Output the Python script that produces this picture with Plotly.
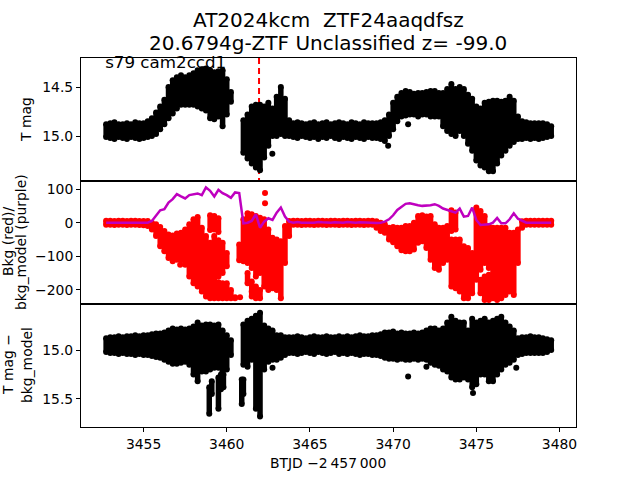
import plotly.graph_objects as go

# first row is 3452.75, then one row of four values per day
btjd = [3452.75,
    3453.0, 3453.25, 3453.5, 3453.75, 3454.0, 3454.25, 3454.5, 3454.75,
    3455.0, 3455.25, 3455.5, 3455.75, 3456.0, 3456.25, 3456.5, 3456.75,
    3457.0, 3457.25, 3457.5, 3457.75, 3458.0, 3458.25, 3458.5, 3458.75,
    3459.0, 3459.25, 3459.5, 3459.75, 3460.0, 3460.25, 3460.5, 3460.75,
    3461.0, 3461.25, 3461.5, 3461.75, 3462.0, 3462.25, 3462.5, 3462.75,
    3463.0, 3463.25, 3463.5, 3463.75, 3464.0, 3464.25, 3464.5, 3464.75,
    3465.0, 3465.25, 3465.5, 3465.75, 3466.0, 3466.25, 3466.5, 3466.75,
    3467.0, 3467.25, 3467.5, 3467.75, 3468.0, 3468.25, 3468.5, 3468.75,
    3469.0, 3469.25, 3469.5, 3469.75, 3470.0, 3470.25, 3470.5, 3470.75,
    3471.0, 3471.25, 3471.5, 3471.75, 3472.0, 3472.25, 3472.5, 3472.75,
    3473.0, 3473.25, 3473.5, 3473.75, 3474.0, 3474.25, 3474.5, 3474.75,
    3475.0, 3475.25, 3475.5, 3475.75, 3476.0, 3476.25, 3476.5, 3476.75,
    3477.0, 3477.25, 3477.5, 3477.75, 3478.0, 3478.25, 3478.5, 3478.75,
    3479.0, 3479.25, 3479.5,
]

# T mag: brightest and faintest point at each time
mag_top = [14.88,
    14.87, 14.86, 14.88, 14.88, 14.87, 14.88, 14.86, 14.87,
    14.87, 14.85, 14.82, 14.76, 14.70, 14.63, 14.50, 14.43,
    14.40, 14.38, 14.40, 14.38, 14.36, 14.33, 14.32, 14.31,
    14.33, 14.35, 14.34, 14.33, 14.42, 14.55, None, None,
    14.84, 14.78, 14.70, 14.68, 14.68, 14.70, 14.66, 14.72,
    14.60, 14.50, 14.62, 14.84, 14.87, 14.86, 14.87, 14.88,
    14.87, 14.86, 14.88, 14.87, 14.86, 14.88, 14.87, 14.86,
    14.87, 14.88, 14.86, 14.87, 14.88, 14.86, 14.87, 14.87,
    14.87, 14.86, 14.84, 14.78, 14.66, 14.60, 14.56, 14.54,
    14.55, 14.57, 14.56, 14.56, 14.55, 14.54, 14.54, 14.56,
    14.56, 14.52, 14.47, 14.52, 14.50, 14.52, 14.58, 14.62,
    14.70, 14.72, 14.66, 14.65, 14.64, 14.64, 14.65, 14.64,
    14.60, 14.64, 14.80, 14.85, 14.86, 14.87, 14.87, 14.87,
    14.87, 14.88, 14.90,
]
mag_bot = [15.01,
    15.02, 15.03, 15.01, 15.02, 15.03, 15.01, 15.02, 15.03,
    15.02, 15.01, 15.00, 14.98, 14.93, 14.88, 14.82, 14.77,
    14.72, 14.68, 14.68, 14.68, 14.68, 14.70, 14.72, 14.74,
    14.82, 14.83, 14.80, 14.90, 14.78, 14.65, None, None,
    15.17, 15.23, 15.28, 15.32, 15.35, 15.22, 15.10, 15.00,
    15.00, 14.98, 15.00, 15.00, 15.01, 15.02, 15.00, 15.01,
    15.02, 15.01, 15.03, 15.01, 15.02, 15.00, 15.02, 15.03,
    15.01, 15.02, 15.03, 15.01, 15.02, 15.03, 15.01, 15.02,
    15.02, 15.03, 15.05, 15.00, 14.93, 14.85, 14.80, 14.79,
    14.78, 14.78, 14.80, 14.78, 14.78, 14.80, 14.80, 14.80,
    14.90, 14.95, 14.98, 15.00, 14.95, 15.00, 15.08, 15.15,
    15.25, 15.30, 15.32, 15.36, 15.36, 15.28, 15.20, 15.15,
    15.10, 15.06, 15.03, 15.03, 15.02, 15.03, 15.02, 15.03,
    15.02, 15.01, 15.00,
]
mag_out_t = [3462.74, 3469.7, 3470.9]
mag_out = [15.18, 15.10, 14.88]

# background flux, main block at each time
bkg_top = [6,
    6, 5, 6, 6, 5, 6, 6, 5,
    5, 5, 0, -5, -13, -25, -35, -38,
    -32, -30, -20, -5, 10, 17, -15, -40,
    -60, -40, -52, -60, -90, -200, -222, -65,
    10, 28, 25, 20, 15, 10, -20, -45,
    -50, -55, -10, 5, 6, 6, 5, 6,
    6, 5, 6, 6, 5, 6, 6, 5,
    6, 6, 5, 6, 6, 5, 6, 6,
    4, 0, -5, -15, -13, -15, -15, -10,
    -10, 0, 20, 22, 18, 20, -5, -15,
    -15, -10, -50, -50, -50, -70, -75, -90,
    45, 35, 20, -10, -15, -15, -15, -15,
    -30, -30, -20, 4, 6, 6, 6, 6,
    6, 6, 6,
]
bkg_bot = [-6,
    -6, -7, -6, -6, -7, -6, -6, -7,
    -8, -10, -20, -40, -70, -85, -105, -115,
    -110, -112, -125, -160, -180, -190, -205, -220,
    -225, -225, -160, -150, -130, -225, -225, -112,
    -115, -120, -135, -160, -150, -190, -200, -195,
    -200, -225, -120, -40, -6, -6, -7, -6,
    -6, -7, -6, -6, -7, -6, -6, -7,
    -6, -6, -7, -6, -6, -7, -6, -6,
    -15, -25, -30, -50, -58, -70, -82, -85,
    -85, -80, -60, -55, -75, -110, -135, -140,
    -120, -110, -190, -195, -205, -225, -225, -210,
    -170, -140, -120, -135, -225, -230, -225, -215,
    -205, -215, -120, -15, -6, -6, -6, -6,
    -6, -6, -6,
]
# separate blocks above or below the main one
bkg_extra_t = [3459.0, 3459.25, 3459.5, 3459.5, 3459.75, 3460.0, 3461.25, 3461.5, 3461.75,
               3462.0, 3473.5, 3473.75, 3475.25, 3475.5, 3475.75]
bkg_extra_top = [22, 20, 13, -177, -180, -180, -150, -175, -190, -200, 37, 30, -170, -160, -155]
bkg_extra_bot = [-22, -20, -28, -225, -225, -225, -180, -220, -225, -225, -25, -20, -210, -230, -230]
bkg_out_t = [3462.3, 3462.3, 3457.2, 3460.8, 3461.5]
bkg_out = [88, 58, -125, -222, -205]

bkg_model = [0,
    0, 0, 0, 0, 0, 0, 0, 0,
    0, 0, 5, 20, 37, 40, 60, 70,
    85, 78, 72, 82, 85, 87, 82, 105,
    95, 78, 98, 88, 82, 74, 90, 88,
    -2, 0, 5, 25, -15, 3, 13, 8,
    30, 45, 18, 3, 0, 2, 0, 1,
    0, 0, 2, 1, 0, 0, 1, 0,
    0, 2, 0, 0, 1, 0, 0, -1,
    -1, 0, 3, 10, 22, 38, 48, 56,
    58, 54, 52, 50, 50, 52, 55, 50,
    42, 37, 34, 30, 42, 18, 20, 45,
    8, -7, -6, -5, 0, 14, -2, -2,
    10, 28, 12, 5, 0, 0, 0, 0,
    0, 0, 0,
]

# T mag - bkg_model
diff_top = [14.88,
    14.87, 14.87, 14.86, 14.87, 14.86, 14.86, 14.85, 14.86,
    14.85, 14.85, 14.84, 14.83, 14.83, 14.82, 14.80, 14.78,
    14.79, 14.78, 14.79, 14.78, 14.76, 14.72, 14.75, 14.74,
    14.74, 14.75, 14.74, 14.80, 14.85, 14.90, None, None,
    14.74, 14.70, 14.68, 14.65, 14.62, 14.75, 14.78, 14.80,
    14.85, 14.85, 14.87, 14.87, 14.87, 14.86, 14.87, 14.88,
    14.87, 14.86, 14.87, 14.87, 14.86, 14.87, 14.87, 14.86,
    14.87, 14.86, 14.87, 14.86, 14.85, 14.86, 14.86, 14.85,
    14.85, 14.84, 14.82, 14.82, 14.81, 14.83, 14.82, 14.83,
    14.83, 14.82, 14.83, 14.82, 14.80, 14.78, 14.78, 14.80,
    14.78, 14.72, 14.66, 14.70, 14.72, 14.72, 14.80, 14.68,
    14.72, 14.70, 14.68, 14.72, 14.70, 14.68, 14.66, 14.72,
    14.76, 14.80, 14.88, 14.87, 14.87, 14.86, 14.87, 14.87,
    14.88, 14.89, 14.90,
]
diff_bot = [15.02,
    15.03, 15.03, 15.04, 15.03, 15.04, 15.04, 15.05, 15.04,
    15.05, 15.05, 15.06, 15.07, 15.08, 15.10, 15.12, 15.14,
    15.14, 15.13, 15.12, 15.15, 15.25, 15.32, 15.22, 15.22,
    15.20, 15.18, 15.18, 15.22, 15.20, 15.05, None, None,
    15.15, 15.17, 15.10, 15.60, 15.68, 15.20, 15.12, 15.10,
    15.10, 15.08, 15.05, 15.03, 15.03, 15.04, 15.03, 15.02,
    15.03, 15.04, 15.02, 15.03, 15.04, 15.03, 15.02, 15.04,
    15.03, 15.04, 15.03, 15.04, 15.05, 15.04, 15.04, 15.05,
    15.05, 15.06, 15.08, 15.09, 15.09, 15.10, 15.09, 15.10,
    15.10, 15.09, 15.10, 15.09, 15.10, 15.13, 15.15, 15.16,
    15.20, 15.22, 15.28, 15.30, 15.30, 15.28, 15.30, 15.38,
    15.35, 15.25, 15.25, 15.32, 15.32, 15.25, 15.20, 15.15,
    15.13, 15.10, 15.05, 15.04, 15.03, 15.03, 15.03, 15.03,
    15.03, 15.02, 15.00,
]
diff_extra_t = [3458.95, 3459.1, 3459.5, 3459.65, 3459.8, 3460.9, 3461.0]
diff_extra_top = [15.38, 15.32, 15.28, 15.25, 15.25, 15.30, 15.30]
diff_extra_bot = [15.65, 15.45, 15.60, 15.40, 15.38, 15.55, 15.45]
diff_out_t = [3462.75, 3470.9, 3472.0, 3477.4, 3474.8]
diff_out = [15.18, 15.27, 15.17, 15.18, 15.44]

sector_label = "s79 cam2ccd1"
event_t = [3461.94, 3461.94]
event_mag = [14.204, 15.459]


def blocks(t, top, bot):
    # each time becomes one vertical run of points, None breaks the line
    xs, ys = [], []
    for a, b, c in zip(t, top, bot):
        if b is None:
            continue
        xs += [a, a, None]
        ys += [b, c, None]
    return xs, ys


def cloud(fig, t, top, bot, color, row):
    x, y = blocks(t, top, bot)
    fig.add_trace(
        go.Scatter(
            x=x, y=y, mode="lines+markers", showlegend=False,
            line=dict(color=color, width=5.5),
            marker=dict(color=color, size=6),
            xaxis="x" + row, yaxis="y" + row,
        )
    )


def dots(fig, t, v, color, row):
    fig.add_trace(
        go.Scatter(
            x=t, y=v, mode="markers", showlegend=False,
            marker=dict(color=color, size=6),
            xaxis="x" + row, yaxis="y" + row,
        )
    )


fig = go.Figure()

# label and dashed line go first so the points cover them
fig.add_trace(
    go.Scatter(
        x=[3452.69], y=[14.265], mode="text", text=[sector_label],
        textposition="middle right", textfont=dict(size=16.7, color="black"),
        showlegend=False, xaxis="x", yaxis="y", cliponaxis=False,
    )
)
fig.add_trace(
    go.Scatter(
        x=event_t, y=event_mag, mode="lines", showlegend=False,
        line=dict(color="#ff0000", width=2, dash="6px,4px"),
        xaxis="x", yaxis="y",
    )
)
cloud(fig, btjd, mag_top, mag_bot, "black", "")
dots(fig, mag_out_t, mag_out, "black", "")

cloud(fig, btjd, bkg_top, bkg_bot, "#ff0000", "2")
cloud(fig, bkg_extra_t, bkg_extra_top, bkg_extra_bot, "#ff0000", "2")
dots(fig, bkg_out_t, bkg_out, "#ff0000", "2")
fig.add_trace(
    go.Scatter(
        x=btjd, y=bkg_model, mode="lines", showlegend=False,
        line=dict(color="#bf00bf", width=2.5),
        xaxis="x2", yaxis="y2",
    )
)

cloud(fig, btjd, diff_top, diff_bot, "black", "3")
cloud(fig, diff_extra_t, diff_extra_top, diff_extra_bot, "black", "3")
dots(fig, diff_out_t, diff_out, "black", "3")

frame = dict(showline=True, linecolor="black", linewidth=1, mirror=True, showgrid=False, zeroline=False)
x_dom = [81 / 640, 576 / 640]
x_range = [3451.24, 3480.99]
y_ticks = dict(ticks="outside", ticklen=4, tickwidth=1, tickcolor="black", tickfont=dict(size=13.9, color="black"))

fig.update_layout(
    width=640,
    height=480,
    autosize=False,
    margin=dict(l=0, r=0, t=0, b=0),
    paper_bgcolor="white",
    plot_bgcolor="white",
    font=dict(family="DejaVu Sans", color="black"),
    xaxis=dict(domain=x_dom, range=x_range, anchor="y", showticklabels=False, ticks="", **frame),
    xaxis2=dict(domain=x_dom, range=x_range, anchor="y2", showticklabels=False, ticks="", **frame),
    xaxis3=dict(
        domain=x_dom, range=x_range, anchor="y3", tickvals=[3455, 3460, 3465, 3470, 3475, 3480],
        ticktext=["3455", "3460", "3465", "3470", "3475", "3480"], **y_ticks, **frame,
    ),
    yaxis=dict(
        domain=[1 - 181 / 480, 1 - 58 / 480], range=[15.459, 14.204], anchor="x",
        tickvals=[14.5, 15.0], ticktext=["14.5", "15.0"], **y_ticks, **frame,
    ),
    yaxis2=dict(
        domain=[1 - 304 / 480, 1 - 181 / 480], range=[-242, 124], anchor="x2",
        tickvals=[100, 0, -100, -200], ticktext=["100", "0", "\u2212100", "\u2212200"], **y_ticks, **frame,
    ),
    yaxis3=dict(
        domain=[1 - 427 / 480, 1 - 304 / 480], range=[15.786, 14.53], anchor="x3",
        tickvals=[15.0, 15.5], ticktext=["15.0", "15.5"], **y_ticks, **frame,
    ),
)

titles = [
    ("AT2024kcm  ZTF24aaqdfsz", 328, 20, 20, 0),
    ("20.6794g-ZTF Unclassified z= -99.0", 328, 43, 20, 0),
    ("BTJD \u22122\u2009457\u2009000", 328, 463, 13.9, 0),
    ("T mag", 26, 120, 13.9, -90),
    ("Bkg (red)/", 8, 242, 13.9, -90),
    ("bkg_model (purple)", 21, 242, 13.9, -90),
    ("T mag \u2212", 8, 365, 13.9, -90),
    ("bkg_model", 27, 365, 13.9, -90),
]
for text, px, py, size, angle in titles:
    fig.add_annotation(
        text=text, x=px / 640, y=1 - py / 480, xref="paper", yref="paper",
        showarrow=False, textangle=angle, font=dict(size=size, color="black"),
        xanchor="center", yanchor="middle",
    )

# the page's default margin would push the chart off the window
fig.write_html(
    "out.html",
    config=dict(displayModeBar=False),
    post_script="document.body.style.margin = '0';",
)
